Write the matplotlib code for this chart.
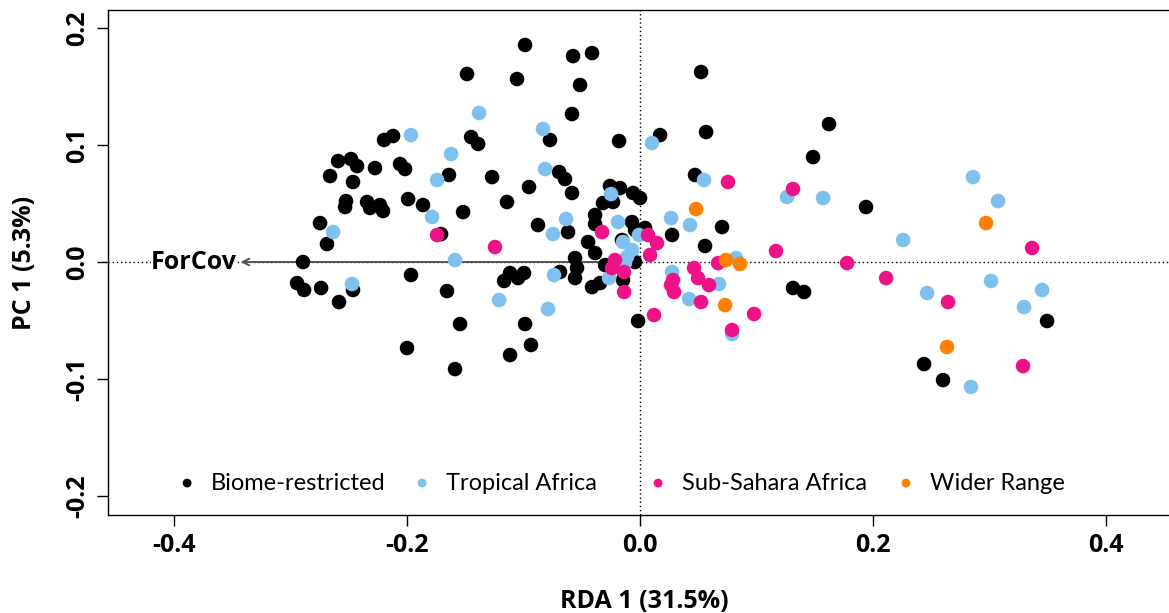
import matplotlib
matplotlib.use("Agg")
import matplotlib.pyplot as plt

plt.rcParams['font.family'] = ['Lato', 'DejaVu Sans']
BOLD = ['Open Sans', 'DejaVu Sans']

# site scores (RDA1, PC1) per distribution group
biome_x = [-0.0987, -0.0575, -0.0412, -0.1485, -0.1056, -0.0515, -0.0584, 0.0524, 0.1622, 0.1485,
           0.1940, -0.2197, -0.2120, -0.1450, -0.1390, -0.0773, -0.0180, 0.0172, 0.0567, -0.2592,
           -0.2481, -0.2429, -0.2275, -0.2060, -0.2017, -0.1640, -0.1270, -0.0695, -0.0644, -0.2661,
           -0.2464, -0.0953, -0.0584, -0.0258, -0.0172, -0.0060, 0.0000, -0.1142, -0.0318, -0.0232,
           -0.2524, -0.2532, -0.2343, -0.2318, -0.2232, -0.2206, -0.1991, -0.1863, -0.1519, -0.0386,
           -0.0386, -0.0069, -0.2747, -0.2687, -0.1708, -0.0876, -0.0618, -0.0446, -0.0386, 0.0043,
           -0.0043, 0.0704, 0.0275, 0.0558, 0.0472, -0.2893, -0.0558, -0.0541, -0.0558, -0.0300,
           -0.0043, -0.0146, -0.2944, -0.2884, -0.2738, -0.2584, -0.2464, -0.1966, -0.1657, -0.1116,
           -0.1167, -0.1047, -0.0996, -0.0687, -0.0412, -0.0343, -0.1545, -0.0987, -0.0936, -0.1116,
           -0.1588, -0.2000, -0.0017, 0.1313, 0.1408, 0.3494, 0.2438, 0.2601, -0.0155]
biome_y = [0.1855, 0.1760, 0.1786, 0.1607, 0.1564, 0.1513, 0.1265, 0.1624, 0.1179, 0.0897,
           0.0470, 0.1043, 0.1077, 0.1068, 0.1009, 0.1043, 0.1034, 0.1085, 0.1111, 0.0863,
           0.0880, 0.0820, 0.0803, 0.0838, 0.0795, 0.0744, 0.0726, 0.0769, 0.0709, 0.0735,
           0.0684, 0.0641, 0.0590, 0.0650, 0.0632, 0.0590, 0.0547, 0.0513, 0.0504, 0.0513,
           0.0521, 0.0470, 0.0513, 0.0462, 0.0487, 0.0436, 0.0538, 0.0487, 0.0427, 0.0402,
           0.0325, 0.0342, 0.0333, 0.0154, 0.0239, 0.0316, 0.0256, 0.0171, 0.0077, 0.0291,
           0.0274, 0.0299, 0.0231, 0.0137, 0.0744, 0.0000, 0.0034, -0.0051, -0.0137, -0.0026,
           0.0000, -0.0154, -0.0180, -0.0239, -0.0222, -0.0342, -0.0239, -0.0111, -0.0248, -0.0094,
           -0.0162, -0.0137, -0.0094, -0.0085, -0.0214, -0.0180, -0.0530, -0.0530, -0.0709, -0.0795,
           -0.0915, -0.0735, -0.0504, -0.0222, -0.0256, -0.0504, -0.0872, -0.1009, 0.0188]

tropical_x = [-0.1966, -0.1622, -0.1382, -0.0833, -0.0815, -0.1742, -0.1785, -0.2635, -0.1588, -0.2472,
              -0.0635, -0.0747, -0.0249, -0.0189, -0.0146, -0.0069, -0.0112, -0.0129, -0.0266, -0.0738,
              -0.1210, -0.0790, 0.0103, 0.0549, 0.0266, 0.0429, 0.0275, 0.0421, 0.0678, 0.0824,
              0.0790, 0.1262, 0.1571, 0.2258, 0.2858, 0.3073, 0.3013, 0.3451, 0.3296, 0.2464,
              0.2841, -0.0009]
tropical_y = [0.1085, 0.0923, 0.1274, 0.1137, 0.0795, 0.0701, 0.0385, 0.0256, 0.0017, -0.0188,
              0.0368, 0.0239, 0.0581, 0.0342, 0.0171, 0.0103, 0.0043, -0.0009, -0.0137, -0.0111,
              -0.0325, -0.0402, 0.1017, 0.0701, 0.0376, 0.0316, -0.0085, -0.0316, -0.0188, 0.0034,
              -0.0615, 0.0556, 0.0547, 0.0188, 0.0726, 0.0521, -0.0162, -0.0239, -0.0385, -0.0265,
              -0.1068, 0.0231]

subsahara_x = [-0.1742, -0.1245, -0.0326, 0.0069, 0.0146, 0.0086, -0.0215, -0.0240, -0.0137, -0.0137,
               0.0120, 0.0755, 0.1167, 0.0670, 0.0283, 0.0266, 0.0292, 0.0464, 0.0498, 0.0592,
               0.0524, 0.0979, 0.0790, 0.1313, 0.1777, 0.2112, 0.2644, 0.3365, 0.3288]
subsahara_y = [0.0231, 0.0128, 0.0256, 0.0231, 0.0162, 0.0060, 0.0017, -0.0051, -0.0085, -0.0256,
               -0.0453, 0.0684, 0.0094, -0.0009, -0.0154, -0.0197, -0.0256, -0.0051, -0.0137, -0.0197,
               -0.0342, -0.0444, -0.0581, 0.0624, -0.0009, -0.0137, -0.0342, 0.0120, -0.0889]

wider_x = [0.0481, 0.0738, 0.0858, 0.0730, 0.2970, 0.2635]
wider_y = [0.0453, 0.0017, -0.0017, -0.0368, 0.0333, -0.0726]

groups = ['Biome-restricted', 'Tropical Africa', 'Sub-Sahara Africa', 'Wider Range']
colors = ['black', '#7EC0EE', '#EE1289', '#FF7F00']

# ForCov biplot arrow
forcov = -0.343

fig = plt.figure(figsize=(11.69, 6.13), dpi=100)
ax = fig.add_axes([108 / 1169, 98 / 613, 1072 / 1169, 505 / 613])

ax.axhline(0, color='black', lw=1, ls=(0, (1, 2)), zorder=1)
ax.axvline(0, color='black', lw=1, ls=(0, (1, 2)), zorder=1)

data = [(biome_x, biome_y), (tropical_x, tropical_y), (subsahara_x, subsahara_y), (wider_x, wider_y)]
for (xs, ys), c, lab in zip(data, colors, groups):
    ax.scatter(xs, ys, s=110, color=c, edgecolors='none', zorder=3, label=lab)

ax.annotate('', xy=(forcov, 0), xytext=(0, 0),
            arrowprops=dict(arrowstyle='->', color='#555555', lw=1.4, mutation_scale=12,
                            shrinkA=0, shrinkB=0), zorder=2)
ax.text(forcov - 0.003, 0, 'ForCov', ha='right', va='center', fontsize=18, fontweight='bold',
        family=BOLD, zorder=4,
        bbox=dict(facecolor='white', edgecolor='none', pad=0))

ax.set_xlim(-0.4567, 0.4635)
ax.set_ylim(-0.2162, 0.2154)
ax.set_xticks([-0.4, -0.2, 0.0, 0.2, 0.4])
ax.set_yticks([-0.2, -0.1, 0.0, 0.1, 0.2])
ax.set_xticklabels(['-0.4', '-0.2', '0.0', '0.2', '0.4'], fontsize=18, fontweight='bold', family=BOLD)
ax.set_yticklabels(['-0.2', '-0.1', '0.0', '0.1', '0.2'], fontsize=18, fontweight='bold', family=BOLD,
                   rotation=90, va='center')
ax.tick_params(direction='out', length=8, width=1, pad=5)
for sp in ax.spines.values():
    sp.set_linewidth(1)

ax.set_xlabel('RDA 1 (31.5%)', fontsize=18, fontweight='bold', family=BOLD, labelpad=22)
ax.set_ylabel('PC 1 (5.3%)', fontsize=18, fontweight='bold', family=BOLD, labelpad=20)

# legend along the bottom
leg_y = -0.1889
leg_dots = [-0.3888, -0.1871, 0.0155, 0.2283]
for lx, c, lab in zip(leg_dots, colors, groups):
    ax.scatter([lx], [leg_y], s=40, color=c, edgecolors='none', zorder=3)
    ax.text(lx + 0.0206, leg_y, lab, ha='left', va='center', fontsize=17)

fig.savefig('out.png', dpi=100)
